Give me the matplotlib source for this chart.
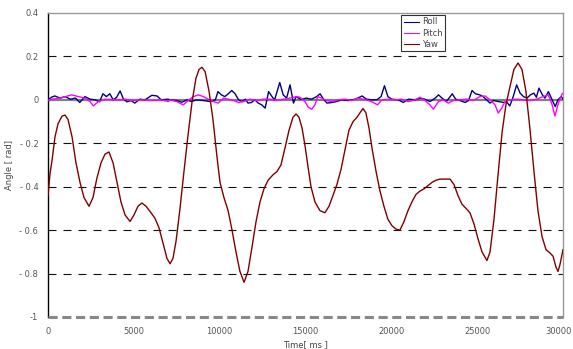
import matplotlib
matplotlib.use("Agg")
import matplotlib.pyplot as plt
import matplotlib.transforms as mtransforms

# ---------------- data (ms, rad) ----------------
roll_t = [0, 200, 400, 700, 1000, 1300, 1600, 1850, 2150, 2450, 2750, 3000, 3200, 3400, 3600, 3800,
          4000, 4200, 4400, 4600, 4850, 5050, 5350, 5650, 6050, 6350, 6600, 7000,
          7100, 7500, 7800, 8100, 8350, 8650, 9050, 9450, 9750, 9900, 10100, 10300, 10500, 10700,
          10900, 11100, 11300, 11500, 11650, 11850, 12050, 12250, 12450, 12650, 12850, 13050,
          13200, 13500, 13700, 13900, 14100, 14300, 14450, 14700,
          14800, 15050, 15350, 15650, 15850, 16050, 16250, 16550, 16800, 17100, 17500, 17900,
          18300, 18550, 18850, 19150, 19400, 19600, 19800, 20020, 20400, 20700, 21000, 21400, 21670,
          21950, 22250, 22550, 22750, 22950, 23200, 23400, 23550, 23750, 24000, 24300, 24500,
          24700, 24900, 25150, 25350, 25550, 25750, 25950, 26250, 26550, 26700, 26900, 27100,
          27300, 27500, 27700, 27900, 28100, 28300, 28450, 28600, 28800, 28950, 29150, 29350,
          29550, 29700, 29900, 30000]
roll_v = [0, 0.012, 0.018, 0.008, 0.015, 0.003, 0.008, -0.012, 0.015, 0.003, 0, -0.009, 0.028, 0.015,
          0.028, 0, 0.012, 0.041, 0.003, -0.009, -0.003, -0.015, 0.003, 0, 0.021, 0.018, 0, 0.003,
          0, -0.003, -0.011, 0, -0.008, 0, -0.003, -0.008, 0, 0.038, 0.023, 0.015, 0.028, 0.043,
          0.028, 0, -0.008, 0.003, -0.015, -0.012, 0, -0.015, -0.023, -0.038, 0.038, 0.015,
          0, 0.08, 0.023, 0.008, 0.069, -0.015, 0.015, 0.003,
          0.003, 0.008, 0.003, 0.015, 0.028, 0.003, -0.015, -0.012, -0.008, 0, -0.003, 0.003,
          0.018, 0.003, 0, 0, 0.015, 0.065, 0.015, 0.003, 0, -0.012, 0.003, 0, 0.008,
          0.003, -0.008, 0.008, 0.023, 0.008, -0.008, 0.012, 0.028, 0.003, -0.003, -0.012, -0.003,
          0.043, 0.028, 0.023, 0.015, 0, -0.015, -0.003, -0.008, -0.012, -0.008, -0.028, 0.015,
          0.069, 0.031, 0.015, 0.008, 0.023, 0.031, 0.012, 0.054, 0.023, 0.008, 0.038, 0.003,
          -0.031, 0, 0.015, 0.003]

pitch_t = [0, 200, 700, 1380, 1770, 2150, 2450, 2640, 2930, 3320, 4100, 4490, 4880, 5460, 6040,
           6620, 7010, 7100, 7500, 7880, 8170, 8470, 8760, 9050, 9340, 9630, 9920, 10210, 10500,
           10800, 11090, 11380, 11770, 12160, 12550, 12930, 13320, 13710, 14100, 14490,
           14680, 14970, 15160, 15360, 15550, 15710, 15940, 16230, 16520, 16910, 17300, 17690,
           18080, 18370, 18660, 18950, 19200, 19440, 19830, 20210, 20600, 20990, 21380, 21670,
           21960, 22250, 22450, 22740, 23030, 23320, 23610, 24000, 24390, 24780, 25160, 25460,
           25750, 26040, 26230, 26430, 26620, 26910, 27300, 27690, 28080, 28460, 28850, 29140,
           29340, 29530, 29730, 29920, 30000]
pitch_v = [-0.003, 0.003, 0.008, 0.023, 0.015, 0.008, -0.008, -0.028, -0.008, 0.003, 0, 0.003,
           -0.003, 0, -0.003, 0, -0.008, 0, -0.008, -0.023, -0.003, 0.015, 0.023, 0.015, 0.003,
           -0.008, -0.015, 0.008, 0.003, -0.003, -0.012, -0.008, 0.003, -0.003, 0.003, 0.003,
           -0.003, 0.003, 0.008, 0.015,
           0.012, -0.008, -0.034, -0.043, -0.023, 0.015, 0.008, -0.003, -0.008, 0, 0.003, -0.003,
           0.008, 0.003, -0.003, -0.012, -0.023, 0, 0.003, 0, 0.003, -0.008, 0, 0.012,
           -0.003, -0.023, -0.043, -0.008, 0, -0.015, -0.003, 0, 0.003, -0.003, 0.015, 0.018,
           0, -0.023, -0.061, -0.038, -0.008, 0, 0.003, 0, -0.003, 0.003, 0.015, 0.023,
           -0.015, -0.074, -0.015, 0.023, 0.031]

yaw_t = [0, 117, 233, 408, 583, 815, 990, 1165, 1400, 1630, 1864, 2097, 2390, 2620, 2850, 3090,
         3320, 3550, 3790, 4020, 4250, 4490, 4780, 5010, 5240, 5470, 5710, 6000, 6230, 6470,
         6700, 6930, 7110, 7280, 7460, 7690, 7920, 8160, 8390, 8620, 8800, 8970, 9150, 9380,
         9610, 9840, 10020, 10250, 10490, 10720, 10950, 11180, 11420, 11650, 11880, 12120,
         12350, 12580, 12820, 13110, 13340, 13570, 13810, 14040, 14270, 14450, 14620, 14800,
         14970, 15150, 15320, 15550, 15840, 16130, 16370, 16600, 16830, 17070, 17300, 17530,
         17770, 18000, 18170, 18350, 18520, 18700, 18870, 19110, 19340, 19570, 19800, 20040,
         20270, 20500, 20740, 20970, 21200, 21440, 21670, 21900, 22130, 22370, 22600, 22830,
         23130, 23420, 23650, 23880, 24110, 24350, 24580, 24810, 25050, 25280, 25570, 25750,
         25980, 26210, 26450, 26680, 26910, 27140, 27380, 27610, 27840, 28070, 28310, 28540,
         28780, 29010, 29240, 29420, 29590, 29710, 29820, 30000]
yaw_v = [-0.44, -0.34, -0.28, -0.17, -0.11, -0.075, -0.07, -0.09, -0.17, -0.29, -0.38, -0.45,
         -0.49, -0.45, -0.36, -0.29, -0.25, -0.24, -0.29, -0.38, -0.47, -0.53, -0.56, -0.53,
         -0.49, -0.475, -0.49, -0.52, -0.545, -0.59, -0.66, -0.73, -0.755, -0.73, -0.65, -0.50,
         -0.33, -0.16, -0.01, 0.10, 0.14, 0.15, 0.13, 0.04, -0.09, -0.26, -0.38, -0.45, -0.51,
         -0.60, -0.70, -0.79, -0.84, -0.79, -0.68, -0.56, -0.47, -0.41, -0.37, -0.345, -0.33,
         -0.30, -0.22, -0.14, -0.08, -0.065, -0.08, -0.13, -0.21, -0.31, -0.40, -0.47, -0.51,
         -0.52, -0.49, -0.44, -0.39, -0.32, -0.23, -0.14, -0.10, -0.08, -0.06, -0.04, -0.06,
         -0.13, -0.22, -0.33, -0.42, -0.49, -0.55, -0.58, -0.595, -0.60, -0.56, -0.51, -0.47,
         -0.435, -0.42, -0.41, -0.395, -0.38, -0.37, -0.365, -0.365, -0.365, -0.39, -0.44,
         -0.48, -0.50, -0.52, -0.57, -0.64, -0.70, -0.74, -0.70, -0.55, -0.35, -0.15, -0.02,
         0.06, 0.14, 0.17, 0.14, 0.04, -0.13, -0.33, -0.51, -0.63, -0.69, -0.705, -0.72, -0.77,
         -0.79, -0.76, -0.69]

x_ticks = [0, 5000, 10000, 15000, 20000, 25000, 30000]
y_ticks = [0.4, 0.2, 0, -0.2, -0.4, -0.6, -0.8, -1]
y_labels = ["0.4", "0.2", "0", "- 0.2", "- 0.4", "- 0.6", "- 0.8", "-1"]
grid_levels = [0.2, -0.2, -0.4, -0.6, -0.8]

# ---------------- figure ----------------
plt.rcParams['font.family'] = ['DejaVu Sans']
fig = plt.figure(figsize=(5.73, 3.49), dpi=100)
ax = fig.add_axes([48/573, 1-317/349, 515/573, 304/349])

for g in grid_levels:
    ax.axhline(g, color='#111111', lw=0.8, linestyle=(0, (7.2, 6.3)), zorder=1)
ax.axhline(0, color='#808080', lw=1.6, zorder=1)
ax.axhline(-1, color='#888888', lw=2.2, linestyle=(0, (3, 1.5)), zorder=5, clip_on=False)

ax.plot(roll_t, roll_v, color='#000080', lw=1.0, label='Roll', zorder=3)
ax.plot(pitch_t, pitch_v, color='#FF00FF', lw=1.0, label='Pitch', zorder=3)
ax.plot(yaw_t, yaw_v, color='#800000', lw=1.0, label='Yaw', zorder=4)

ax.set_xlim(0, 30000)
ax.set_ylim(-1, 0.4)
ax.set_xticks(x_ticks)
ax.set_xticklabels([str(v) for v in x_ticks])
ax.set_yticks(y_ticks)
ax.set_yticklabels(y_labels)
ax.tick_params(length=0, labelsize=6, colors='#555555', pad=7)

# keep the last x label inside the canvas
last = ax.get_xticklabels()[-1]
last.set_transform(last.get_transform() +
                   mtransforms.ScaledTranslation(-5/100, 0, fig.dpi_scale_trans))

for s in ['top', 'right']:
    ax.spines[s].set_color('#999999')
    ax.spines[s].set_linewidth(1.0)
ax.spines['left'].set_color('black')
ax.spines['left'].set_linewidth(1.0)
ax.spines['bottom'].set_visible(False)

ax.set_xlabel('Time[ ms ]', fontsize=6, color='#444444', labelpad=3)
ax.set_ylabel('Angle [ rad]', fontsize=6, color='#444444', labelpad=4)

leg = ax.legend(loc='upper left', bbox_to_anchor=((401-48)/515, (317-15)/304),
                fontsize=6, frameon=True, fancybox=False, borderpad=0.3,
                handlelength=1.8, handletextpad=0.4, labelspacing=0.25,
                borderaxespad=0)
leg.get_frame().set_edgecolor('black')
leg.get_frame().set_linewidth(0.8)
for line in leg.get_lines():
    line.set_linewidth(0.8)
for t in leg.get_texts():
    t.set_color('#444444')

fig.savefig('out.png', dpi=100)
